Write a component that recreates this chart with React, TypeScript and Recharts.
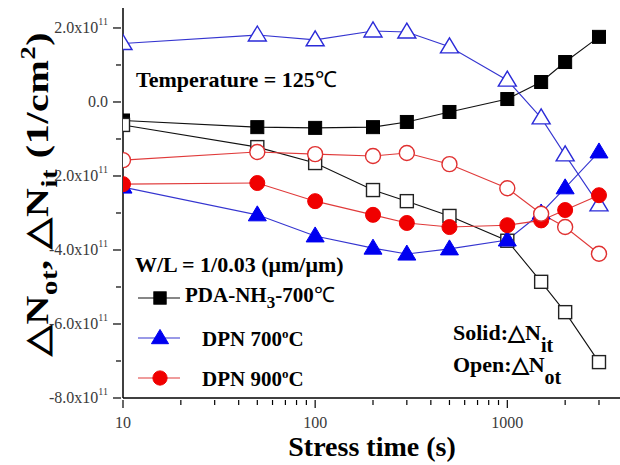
import React from 'react';
import { LineChart, Line, XAxis, YAxis, Legend, Label } from 'recharts';

const SERIF = '"Liberation Serif", "Times New Roman", serif';

// stress time (s), log axis
const stressTime = [10, 50, 100, 200, 300, 500, 1000, 1500, 2000, 3000];

// trap densities in units of 1e11 cm^-2
const pdaNit = [-0.5, -0.68, -0.7, -0.68, -0.54, -0.27, 0.08, 0.54, 1.08, 1.76];
const pdaNot = [-0.62, -1.22, -1.65, -2.38, -2.68, -3.08, -3.75, -4.86, -5.68, -7.03];
const dpn700Nit = [-2.3, -3.05, -3.62, -3.95, -4.11, -3.97, -3.73, -3.0, -2.32, -1.35];
const dpn700Not = [1.58, 1.81, 1.68, 1.92, 1.89, 1.49, 0.59, -0.43, -1.43, -2.78];
const dpn900Nit = [-2.22, -2.19, -2.68, -3.05, -3.27, -3.38, -3.33, -3.2, -2.92, -2.52];
const dpn900Not = [-1.57, -1.35, -1.41, -1.46, -1.38, -1.68, -2.33, -3.02, -3.38, -4.1];

const xTicks = [
  10, 20, 30, 40, 50, 60, 70, 80, 90,
  100, 200, 300, 400, 500, 600, 700, 800, 900,
  1000, 2000, 3000,
];
const xLabeled = [10, 100, 1000];
const yTicks = [-8, -7, -6, -5, -4, -3, -2, -1, 0, 1, 2];

const data = stressTime.map((t, i) => ({
  t,
  pdaNit: pdaNit[i],
  pdaNot: pdaNot[i],
  dpn700Nit: dpn700Nit[i],
  dpn700Not: dpn700Not[i],
  dpn900Nit: dpn900Nit[i],
  dpn900Not: dpn900Not[i],
}));

type Shape = 'square' | 'triangle' | 'circle';

const Marker = ({ cx, cy, shape, color, filled, s = 1 }: any) => {
  const fill = filled ? color : '#fff';
  const sw = filled ? 1 : 1.4;
  if (shape === 'square') {
    const h = 6.5 * s;
    return <rect x={cx - h} y={cy - h} width={2 * h} height={2 * h} fill={fill} stroke={color} strokeWidth={sw} />;
  }
  if (shape === 'triangle') {
    const w = 9 * s;
    return (
      <polygon
        points={`${cx},${cy - 9 * s} ${cx - w},${cy + 6 * s} ${cx + w},${cy + 6 * s}`}
        fill={fill}
        stroke={color}
        strokeWidth={sw}
      />
    );
  }
  return <circle cx={cx} cy={cy} r={7.5 * s} fill={fill} stroke={color} strokeWidth={sw} />;
};

const makeDot = (shape: Shape, color: string, filled: boolean) => (props: any) => {
  const { cx, cy, index } = props;
  if (cx == null || cy == null) return <g key={index} />;
  return <Marker key={index} cx={cx} cy={cy} shape={shape} color={color} filled={filled} />;
};

// solid marks = ΔNit, open marks = ΔNot
const series = [
  { key: 'pdaNit', name: 'PDA-NH3-700℃', shape: 'square', line: '#111', mark: '#000', filled: true },
  { key: 'pdaNot', name: 'PDA-NH3-700℃ Not', shape: 'square', line: '#111', mark: '#222', filled: false },
  { key: 'dpn700Nit', name: 'DPN 700°C', shape: 'triangle', line: '#3535d0', mark: '#0000f0', filled: true },
  { key: 'dpn700Not', name: 'DPN 700°C Not', shape: 'triangle', line: '#3535d0', mark: '#2a2ad8', filled: false },
  { key: 'dpn900Nit', name: 'DPN 900°C', shape: 'circle', line: '#e03a3a', mark: '#f00000', filled: true },
  { key: 'dpn900Not', name: 'DPN 900°C Not', shape: 'circle', line: '#e03a3a', mark: '#e03030', filled: false },
];

const legendLabel: Record<string, React.ReactNode> = {
  pdaNit: (
    <span>
      PDA-NH<sub style={{ fontSize: 17, verticalAlign: -6 }}>3</sub>-700<span style={{ fontWeight: 400 }}>℃</span>
    </span>
  ),
  dpn700Nit: (
    <span style={{ marginLeft: 17 }}>
      DPN 700<sup style={{ fontSize: 13 }}>o</sup>C
    </span>
  ),
  dpn900Nit: (
    <span style={{ marginLeft: 17 }}>
      DPN 900<sup style={{ fontSize: 13 }}>o</sup>C
    </span>
  ),
};

const LegendBox = ({ payload }: any) => {
  const shown = series.filter((s) =>
    (payload || []).some((p: any) => p.dataKey === s.key && p.type !== 'none'),
  );
  return (
    <div style={{ fontFamily: SERIF, fontWeight: 700, fontSize: 21, color: '#000' }}>
      {shown.map((s) => (
        <div key={s.key} style={{ display: 'flex', alignItems: 'center', height: 40 }}>
          <svg width={47} height={24}>
            <line x1={2} x2={44} y1={12} y2={12} stroke={s.line} strokeWidth={1.2} />
            <Marker cx={24} cy={12} shape={s.shape} color={s.mark} filled s={0.95} />
          </svg>
          <span style={{ marginLeft: 2, lineHeight: 1 }}>{legendLabel[s.key]}</span>
        </div>
      ))}
    </div>
  );
};

const YTick = ({ x, y, payload }: any) => {
  const v = payload.value;
  const major = v % 2 === 0;
  return (
    <g>
      <line x1={x - (major ? 8 : 5)} x2={x} y1={y} y2={y} stroke="#000" strokeWidth={1.2} />
      {major && (
        <text x={x - 13} y={y + 5} textAnchor="end" fontSize={16} fill="#3a3a3a" fontFamily={SERIF}>
          {v === 0 ? (
            '0.0'
          ) : (
            <>
              {v.toFixed(1)}x10
              <tspan dy={-8} fontSize={10}>
                11
              </tspan>
            </>
          )}
        </text>
      )}
    </g>
  );
};

const XTick = ({ x, y, payload }: any) => {
  const v = payload.value;
  const major = xLabeled.includes(v);
  return (
    <g>
      <line x1={x} x2={x} y1={y} y2={y + (major ? 8 : 5)} stroke="#000" strokeWidth={1.2} />
      {major && (
        <text x={x} y={y + 28} textAnchor="middle" fontSize={16} fill="#3a3a3a" fontFamily={SERIF}>
          {v}
        </text>
      )}
    </g>
  );
};

const YTitle = ({ viewBox }: any) => {
  const cx = 48;
  const cy = viewBox.y + viewBox.height / 2 - 9;
  return (
    <text
      x={0}
      y={0}
      transform={`translate(${cx} ${cy}) rotate(-90) scale(1.25 1)`}
      textAnchor="middle"
      fontFamily={SERIF}
      fontWeight={700}
      fontSize={32}
      letterSpacing={0.5}
      fill="#000"
    >
      △N
      <tspan dy={9} fontSize={23}>ot</tspan>
      <tspan dy={-9}>, △N</tspan>
      <tspan dy={9} fontSize={23}>it</tspan>
      <tspan dy={-9}> (1/cm</tspan>
      <tspan dy={-13} fontSize={21}>2</tspan>
      <tspan dy={13}>)</tspan>
    </text>
  );
};

const XTitle = ({ viewBox }: any) => (
  <text
    x={viewBox.x + viewBox.width / 2 - 1}
    y={viewBox.y + 58}
    textAnchor="middle"
    fontFamily={SERIF}
    fontWeight={700}
    fontSize={28}
    fill="#000"
  >
    Stress time (s)
  </text>
);

const note: React.CSSProperties = {
  position: 'absolute',
  fontFamily: SERIF,
  fontWeight: 700,
  fontSize: 22,
  lineHeight: '22px',
  color: '#000',
  whiteSpace: 'nowrap',
};

const subStyle: React.CSSProperties = { fontSize: 20, verticalAlign: -12 };

export default function App() {
  return (
    <div
      style={{
        position: 'absolute',
        left: 0,
        top: 0,
        width: 620,
        height: 465,
        overflow: 'hidden',
        background: '#fff',
        fontFamily: SERIF,
      }}
    >
      <LineChart width={640} height={465} data={data} margin={{ top: 8, right: 17, bottom: 0, left: 0 }}>
        <XAxis
          dataKey="t"
          type="number"
          scale="log"
          domain={[10, 4000]}
          allowDataOverflow
          ticks={xTicks}
          interval={0}
          tick={XTick}
          tickLine={false}
          tickSize={0}
          height={67}
          axisLine={{ stroke: '#000', strokeWidth: 1.5 }}
        >
          <Label content={XTitle} />
        </XAxis>
        <XAxis
          xAxisId="top"
          orientation="top"
          dataKey="t"
          type="number"
          scale="log"
          domain={[10, 4000]}
          allowDataOverflow
          tick={false}
          tickLine={false}
          height={0}
          axisLine={{ stroke: '#000', strokeWidth: 1.5 }}
        />
        <YAxis
          type="number"
          domain={[-8, 2.54]}
          allowDataOverflow
          ticks={yTicks}
          interval={0}
          tick={YTick}
          tickLine={false}
          tickSize={0}
          width={123}
          axisLine={{ stroke: '#000', strokeWidth: 1.5 }}
        >
          <Label content={YTitle} />
        </YAxis>
        {series.map((s) => (
          <Line
            key={s.key}
            dataKey={s.key}
            name={s.name}
            stroke={s.line}
            strokeWidth={1.1}
            dot={makeDot(s.shape as Shape, s.mark, s.filled)}
            activeDot={false}
            legendType={s.filled ? 'line' : 'none'}
            isAnimationActive={false}
          />
        ))}
        <Legend
          layout="vertical"
          align="center"
          verticalAlign="middle"
          content={LegendBox}
          wrapperStyle={{ left: 136, top: 278, width: 240 }}
        />
      </LineChart>

      <div style={{ ...note, left: 136, top: 69 }}>
        Temperature = 125<span style={{ fontWeight: 400 }}>℃</span>
      </div>
      <div style={{ ...note, left: 135, top: 254 }}>W/L = 1/0.03 (μm/μm)</div>
      <div style={{ ...note, left: 453, top: 322 }}>
        Solid:△N<sub style={subStyle}>it</sub>
      </div>
      <div style={{ ...note, left: 453, top: 354 }}>
        Open:△N<sub style={subStyle}>ot</sub>
      </div>
    </div>
  );
}
